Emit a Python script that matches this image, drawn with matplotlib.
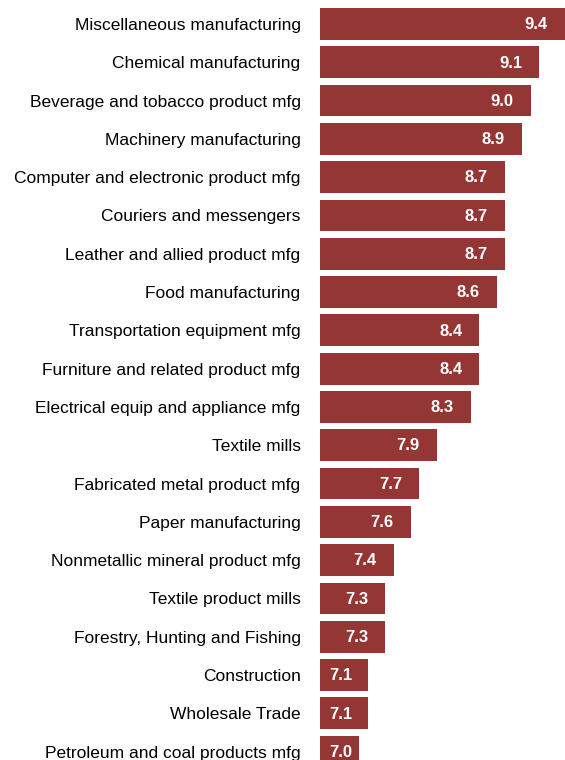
import matplotlib.pyplot as plt

plt.rcParams['font.family'] = ['Liberation Sans', 'DejaVu Sans']

industries = ['Miscellaneous manufacturing', 'Chemical manufacturing',
              'Beverage and tobacco product mfg', 'Machinery manufacturing',
              'Computer and electronic product mfg', 'Couriers and messengers',
              'Leather and allied product mfg', 'Food manufacturing',
              'Transportation equipment mfg', 'Furniture and related product mfg',
              'Electrical equip and appliance mfg', 'Textile mills',
              'Fabricated metal product mfg', 'Paper manufacturing',
              'Nonmetallic mineral product mfg', 'Textile product mills',
              'Forestry, Hunting and Fishing', 'Construction',
              'Wholesale Trade', 'Petroleum and coal products mfg']
values = [9.4, 9.1, 9.0, 8.9, 8.7, 8.7, 8.7, 8.6, 8.4, 8.4,
          8.3, 7.9, 7.7, 7.6, 7.4, 7.3, 7.3, 7.1, 7.1, 7.0]

bar_color = '#943634'
x0 = 6.54

fig = plt.figure(figsize=(5.65, 7.6), dpi=100)
ax = fig.add_axes([320/565, 0, 245/565, 1])

ypos = list(range(len(values)))
ax.barh(ypos, [v - x0 for v in values], left=x0, height=0.83, color=bar_color)

for y, v in zip(ypos, values):
    # inside-end label, but kept inside the short bars
    xr = max(v - 0.2, 6.92)
    ax.text(xr, y + 0.02, f'{v:.1f}', ha='right', va='center', color='white',
            fontsize=12, fontweight='bold')

ax.set_xlim(x0, x0 + 245/85.7)
ax.set_ylim(19.22, -0.627)
ax.set_yticks(ypos)
ax.set_yticklabels(industries, fontsize=12.5)
ax.tick_params(axis='y', length=0, pad=14)
ax.set_xticks([])
for s in ax.spines.values():
    s.set_visible(False)

fig.savefig('out.png', dpi=100)
